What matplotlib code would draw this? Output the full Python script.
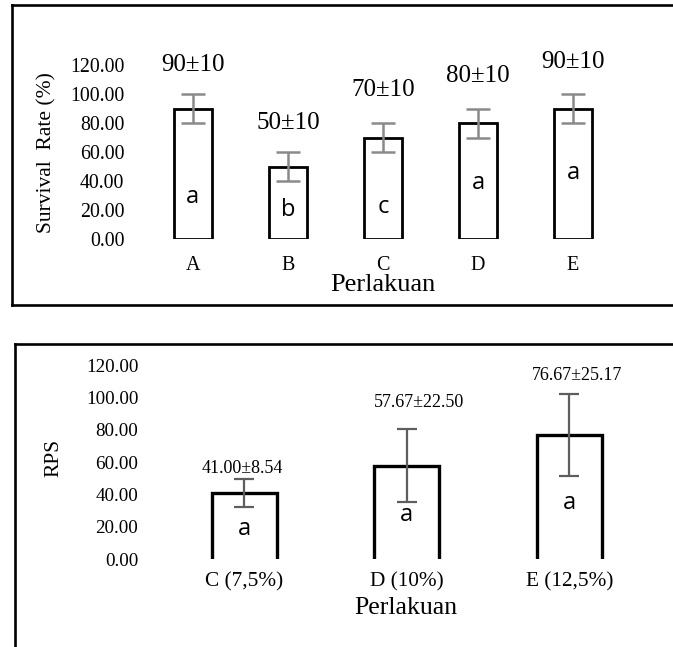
import matplotlib
matplotlib.use("Agg")
import matplotlib.pyplot as plt
from matplotlib.lines import Line2D

# ---------------- data ----------------
sr_categories = ["A", "B", "C", "D", "E"]
sr_values = [90, 50, 70, 80, 90]
sr_errors = [10, 10, 10, 10, 10]
sr_labels = ["90±10", "50±10", "70±10", "80±10", "90±10"]
sr_letters = ["a", "b", "c", "a", "a"]

rps_categories = ["C (7,5%)", "D (10%)", "E (12,5%)"]
rps_values = [41.00, 57.67, 76.67]
rps_errors = [8.54, 22.50, 25.17]
rps_letters = ["a", "a", "a"]

y_ticks = [0, 20, 40, 60, 80, 100, 120]

# ---------------- layout (annotation placement) ----------------
sr_label_y = [120, 79.9, 102.8, 112.4, 122.3]
sr_letter_y = [28.9, 20.2, 22.4, 38.6, 45.9]
rps_label_y = [56.2, 96.7, 113.8]
rps_label_dx = [-0.012, 0.077, 0.046]
rps_letter_y = [18.7, 27.4, 35.0]

SERIF = "Liberation Serif"
SANS = "Open Sans"

W, H = 673, 647
fig = plt.figure(figsize=(W / 100, H / 100), dpi=100)


def fx(px):
    return px / W


def fy(py):
    return 1 - py / H


# panel borders
lw_border = 1.9
fig.add_artist(Line2D([fx(12), fx(12)], [fy(5), fy(304.5)], color="black", lw=lw_border))
fig.add_artist(Line2D([fx(12), 1.05], [fy(5), fy(5)], color="black", lw=lw_border))
fig.add_artist(Line2D([fx(12), 1.05], [fy(304.5), fy(304.5)], color="black", lw=lw_border))
fig.add_artist(Line2D([fx(14.7), fx(14.7)], [fy(344), -0.05], color="black", lw=lw_border))
fig.add_artist(Line2D([fx(14.7), 1.05], [fy(344), fy(344)], color="black", lw=lw_border))

# ---------------- top panel: Survival Rate ----------------
ax1 = fig.add_axes([fx(145.3), fy(239.3), (620.5 - 145.3) / W, (239.3 - 65) / H])
x1 = list(range(len(sr_categories)))
ax1.bar(x1, sr_values, width=0.4, color="white", edgecolor="black", linewidth=2.0, zorder=2)
ax1.errorbar(x1, sr_values, yerr=sr_errors, fmt="none", ecolor="#8a8a8a",
             elinewidth=1.8, capsize=8.4, capthick=1.8, zorder=3)
for xi, ty, txt in zip(x1, sr_label_y, sr_labels):
    ax1.text(xi, ty, txt, ha="center", va="center", fontsize=18, family=SERIF, clip_on=False)
for xi, ly, txt in zip(x1, sr_letter_y, sr_letters):
    ax1.text(xi, ly, txt, ha="center", va="center", fontsize=17, family=SANS, zorder=4)
ax1.set_xlim(-0.5, len(sr_categories) - 0.5)
ax1.set_ylim(0, 120)
ax1.set_yticks(y_ticks)
ax1.set_yticklabels([f"{v:.2f}" for v in y_ticks], family=SERIF, fontsize=14.3)
ax1.set_xticks(x1)
ax1.set_xticklabels(sr_categories, family=SERIF, fontsize=14.5)
ax1.tick_params(axis="y", length=0, pad=15)
ax1.tick_params(axis="x", length=0, pad=12)
for s in ax1.spines.values():
    s.set_visible(False)
ax1.set_xlabel("Perlakuan", family=SERIF, fontsize=19, va="center")
ax1.xaxis.set_label_coords(0.499, -0.262)
ax1.set_ylabel("Survival  Rate (%)", family=SERIF, fontsize=15.5, va="center")
ax1.yaxis.set_label_coords(-0.2075, 0.50)
ax1.patch.set_visible(False)

# ---------------- bottom panel: RPS ----------------
ax2 = fig.add_axes([fx(163.3), fy(559.3), (650.4 - 163.3) / W, (559.3 - 365) / H])
x2 = list(range(len(rps_categories)))
bars2 = ax2.bar(x2, rps_values, width=0.4, color="white", edgecolor="none", zorder=2)
for rect in bars2:
    x0, w, h = rect.get_x(), rect.get_width(), rect.get_height()
    ax2.plot([x0, x0, x0 + w, x0 + w], [0, h, h, 0], color="black", lw=2.4,
             solid_joinstyle="miter", zorder=2.5)
ax2.errorbar(x2, rps_values, yerr=rps_errors, fmt="none", ecolor="#5e5e5e",
             elinewidth=1.6, capsize=7.5, capthick=1.6, zorder=3)
for xi, dx, ty, v, e in zip(x2, rps_label_dx, rps_label_y, rps_values, rps_errors):
    ax2.text(xi + dx, ty, f"{v:.2f}±{e:.2f}", ha="center", va="center", fontsize=13,
             family=SERIF, clip_on=False)
for xi, ly, txt in zip(x2, rps_letter_y, rps_letters):
    ax2.text(xi, ly, txt, ha="center", va="center", fontsize=17, family=SANS, zorder=4)
ax2.set_xlim(-0.5, len(rps_categories) - 0.5)
ax2.set_ylim(0, 120)
ax2.set_yticks(y_ticks)
ax2.set_yticklabels([f"{v:.2f}" for v in y_ticks], family=SERIF, fontsize=13.7)
ax2.set_xticks(x2)
ax2.set_xticklabels(rps_categories, family=SERIF, fontsize=15.3)
ax2.tick_params(axis="y", length=0, pad=18)
ax2.tick_params(axis="x", length=0, pad=9)
for s in ax2.spines.values():
    s.set_visible(False)
ax2.set_xlabel("Perlakuan", family=SERIF, fontsize=18.5, va="center")
ax2.xaxis.set_label_coords(0.4978, -0.2522)
ax2.set_ylabel("RPS", family=SERIF, fontsize=15.5, va="center")
ax2.yaxis.set_label_coords(-0.2244, 0.52)
ax2.patch.set_visible(False)

fig.savefig("out.png", dpi=100, facecolor="white")
